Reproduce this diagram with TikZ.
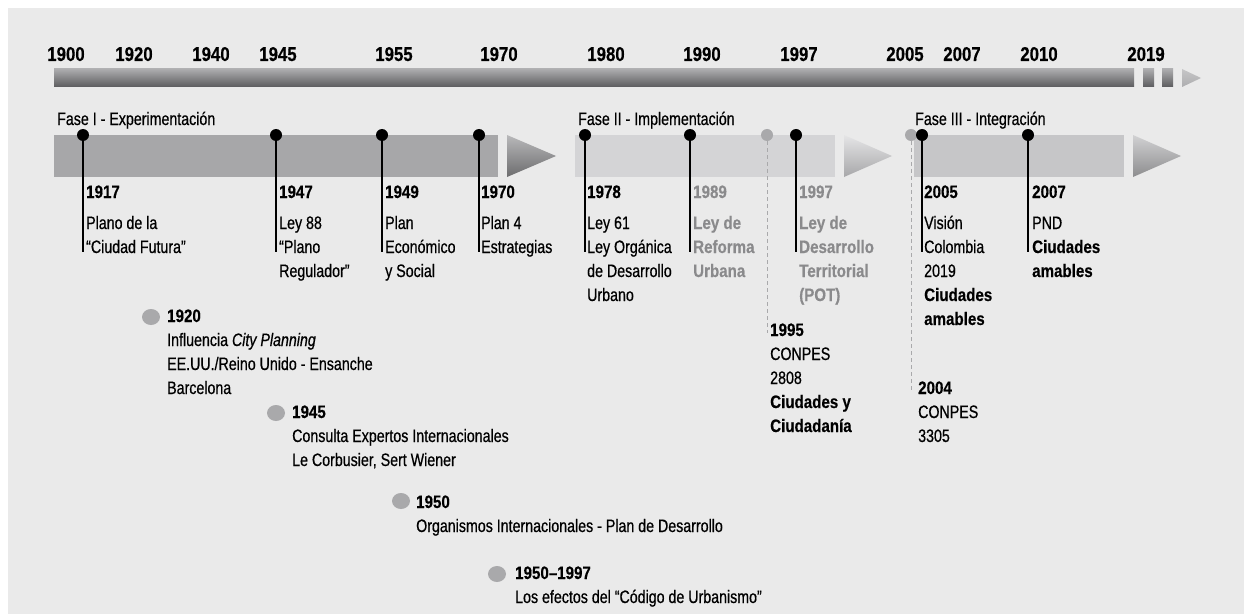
\documentclass[tikz,border=0pt]{standalone}
\usepackage{fontspec}
\setmainfont{Liberation Sans}[UprightFeatures={FakeStretch=0.79,FakeBold=0.6},BoldFeatures={FakeStretch=0.84,FakeBold=0.4},ItalicFeatures={FakeStretch=0.79,FakeBold=0.6}]
\usetikzlibrary{shapes.geometric}
\definecolor{bg}{HTML}{EAEAEA}
\definecolor{phA}{HTML}{A7A7A9}
\definecolor{phB}{HTML}{D4D4D6}
\definecolor{phC}{HTML}{C6C6C8}
\definecolor{dotgray}{HTML}{A9A9AB}
\definecolor{txtgray}{HTML}{8A8A8C}
\definecolor{barTop}{HTML}{ADADAF}
\definecolor{barBot}{HTML}{5C5C5E}
\newcommand\mlines[1]{\begin{tabular}[t]{@{}l@{}}#1\end{tabular}}
\begin{document}
\begin{tikzpicture}[x=1pt,y=-1pt,
 yr/.style={anchor=base, inner sep=0pt, font=\fontsize{20}{24}\selectfont\bfseries},
 ph/.style={anchor=base west, inner sep=0pt, font=\fontsize{18}{24}\selectfont},
 ev/.style={anchor=base west, inner sep=0pt, font=\fontsize{18}{24}\selectfont\bfseries},
 tx/.style={anchor=base west, inner sep=0pt, font=\fontsize{18}{24}\selectfont},
 bdot/.style={circle, fill=black, inner sep=0pt, minimum size=12pt},
 gdot/.style={circle, fill=dotgray, inner sep=0pt, minimum size=12pt},
 bigdot/.style={ellipse, fill=dotgray, inner sep=0pt, minimum width=18pt, minimum height=16pt},
 stem/.style={line width=1.3pt, black},
 dstem/.style={line width=1pt, dotgray, dash pattern=on 4pt off 3pt}]
\useasboundingbox (0,0) rectangle (1244,615);
\fill[bg] (8,8) rectangle (1244,614);
% top bar
\shade[top color=barTop, bottom color=barBot] (54,69) rectangle (1134,87);
\shade[top color=barTop, bottom color=barBot] (1143,69) rectangle (1154,87);
\shade[top color=barTop, bottom color=barBot] (1162,69) rectangle (1173,87);
\shade[top color=barTop!70, bottom color=barTop] (1182,69) -- (1201,78) -- (1182,87) -- cycle;
% years
\node[yr] (y1900) at (66,61) {1900};
\node[yr] (y1920) at (134,61) {1920};
\node[yr] (y1940) at (211,61) {1940};
\node[yr] (y1945) at (278,61) {1945};
\node[yr] (y1955) at (394,61) {1955};
\node[yr] (y1970) at (499,61) {1970};
\node[yr] (y1980) at (606,61) {1980};
\node[yr] (y1990) at (702,61) {1990};
\node[yr] (y1997) at (799,61) {1997};
\node[yr] (y2005) at (905,61) {2005};
\node[yr] (y2007) at (962,61) {2007};
\node[yr] (y2010) at (1039,61) {2010};
\node[yr] (y2019) at (1146,61) {2019};
% phase bars
\fill[phA] (54,135) rectangle (498,177);
\shade[top color=phA!80, bottom color=barBot!90] (507,135) -- (556,156) -- (507,177) -- cycle;
\fill[phB] (575,135) rectangle (835,177);
\shade[top color=phB!60, bottom color=phA] (844,135) -- (892,156) -- (844,177) -- cycle;
\fill[phC] (914,135) rectangle (1124,177);
\shade[top color=phC!80, bottom color=barBot!70] (1133,135) -- (1181,156) -- (1133,177) -- cycle;
% phase labels
\node[ph] (f1) at (57,125) {Fase I - Experimentación};
\node[ph] (f2) at (578,125) {Fase II - Implementación};
\node[ph] (f3) at (915,125) {Fase III - Integración};
% dots
\node[gdot] (d1995) at (767,135) {};
\node[gdot] (d2004) at (911,135) {};
\node[bdot] (d1917) at (83,135) {};
\node[bdot] (d1947) at (276,135) {};
\node[bdot] (d1949) at (382,135) {};
\node[bdot] (d1970) at (479,135) {};
\node[bdot] (d1978) at (585,135) {};
\node[bdot] (d1989) at (690,135) {};
\node[bdot] (d1997) at (796,135) {};
\node[bdot] (d2005) at (922,135) {};
\node[bdot] (d2007) at (1028,135) {};
% stem ends
\coordinate (e1917) at (83,252);
\coordinate (e1947) at (276,252);
\coordinate (e1949) at (382,252);
\coordinate (e1970) at (479,252);
\coordinate (e1978) at (585,252);
\coordinate (e1989) at (690,252);
\coordinate (e1997) at (796,252);
\coordinate (e2005) at (922,252);
\coordinate (e2007) at (1028,252);
\coordinate (e1995) at (767,333);
\coordinate (e2004) at (911,393);
\foreach \n in {1917,1947,1949,1970,1978,1989,1997,2005,2007}
  \draw[stem] (d\n.center) -- (e\n);
\draw[dstem] (d1995.south) -- (e1995);
\draw[dstem] (d2004.south) -- (e2004);
% event texts
\node[ev] (t1917) at (86,198) {1917};
\node[tx] (x1917) at (86,229) {\mlines{Plano de la\\“Ciudad Futura”}};
\node[ev] (t1947) at (279,198) {1947};
\node[tx] (x1947) at (279,229) {\mlines{Ley 88\\“Plano\\Regulador”}};
\node[ev] (t1949) at (385,198) {1949};
\node[tx] (x1949) at (385,229) {\mlines{Plan\\Económico\\y Social}};
\node[ev] (t1970) at (481,198) {1970};
\node[tx] (x1970) at (481,229) {\mlines{Plan 4\\Estrategias}};
\node[ev] (t1978) at (587,198) {1978};
\node[tx] (x1978) at (587,229) {\mlines{Ley 61\\Ley Orgánica\\de Desarrollo\\Urbano}};
\node[ev, txtgray] (t1989) at (693,198) {1989};
\node[ev, txtgray] (x1989) at (693,229) {\mlines{Ley de\\Reforma\\Urbana}};
\node[ev, txtgray] (t1997) at (799,198) {1997};
\node[ev, txtgray] (x1997) at (799,229) {\mlines{Ley de\\Desarrollo\\Territorial\\(POT)}};
\node[tx] (x1995) at (770,336) {\mlines{\textbf{1995}\\CONPES\\2808\\\textbf{Ciudades y}\\\textbf{Ciudadanía}}};
\node[ev] (t2005) at (924,198) {2005};
\node[tx] (x2005) at (924,229) {\mlines{Visión\\Colombia\\2019\\\textbf{Ciudades}\\\textbf{amables}}};
\node[ev] (t2007) at (1032,198) {2007};
\node[tx] (x2007) at (1032,229) {\mlines{PND\\\textbf{Ciudades}\\\textbf{amables}}};
\node[tx] (x2004) at (918,394) {\mlines{\textbf{2004}\\CONPES\\3305}};
% lower items
\node[bigdot] (c1920) at (151,317) {};
\node[tx] (l1920) at (167,322) {\mlines{\textbf{1920}\\Influencia \textit{City Planning}\\EE.UU./Reino Unido - Ensanche\\Barcelona}};
\node[bigdot] (c1945) at (276,413) {};
\node[tx] (l1945) at (292,418) {\mlines{\textbf{1945}\\Consulta Expertos Internacionales\\Le Corbusier, Sert Wiener}};
\node[bigdot] (c1950) at (401,501) {};
\node[tx] (l1950) at (416,508) {\mlines{\textbf{1950}\\Organismos Internacionales - Plan de Desarrollo}};
\node[bigdot] (c1997) at (497,574) {};
\node[tx] (l1997) at (515,579) {\mlines{\textbf{1950–1997}\\Los efectos del “Código de Urbanismo”}};
\end{tikzpicture}
\end{document}
